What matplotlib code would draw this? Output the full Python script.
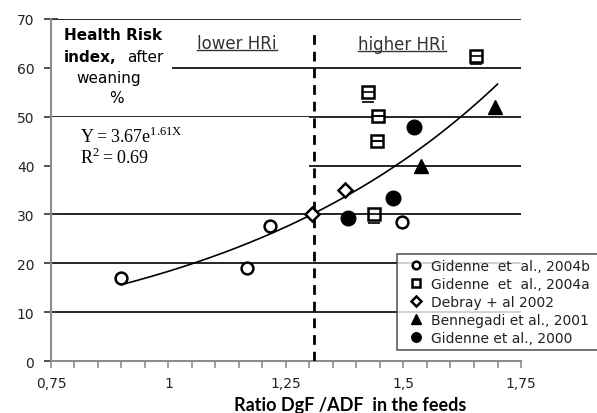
import matplotlib
matplotlib.use("Agg")
import matplotlib.pyplot as plt
import numpy as np
from matplotlib.patches import Rectangle
from matplotlib.lines import Line2D

plt.rcParams['font.family'] = ['DejaVu Sans']
plt.rcParams['mathtext.fontset'] = 'custom'
plt.rcParams['mathtext.rm'] = 'Liberation Serif'

# ---- data ----
g2004b_x = [0.90, 1.167, 1.216, 1.497]
g2004b_y = [17.0, 19.0, 27.6, 28.4]
g2004a_x = [1.654, 1.425, 1.446, 1.443, 1.437]
g2004a_y = [62.4, 55.0, 50.1, 45.0, 30.1]
g2004a_err_low = [1.6, 2.0, 0.0, 0.0, 1.8]
debray_x = [1.376, 1.305]
debray_y = [35.0, 30.1]
benne_x = [1.695, 1.537]
benne_y = [51.9, 39.9]
g2000_x = [1.522, 1.478, 1.382]
g2000_y = [47.9, 33.3, 29.2]

fit_a, fit_b = 3.67, 1.61
fit_xmin, fit_xmax = 0.90, 1.70
threshold_x = 1.31
threshold_top = 67.5

xticks = [0.75, 1.0, 1.25, 1.5, 1.75]
xticklabels = ['0,75', '1', '1,25', '1,5', '1,75']
yticks = [0, 10, 20, 30, 40, 50, 60, 70]

fig = plt.figure(figsize=(5.97, 4.14), dpi=100)
ax = fig.add_axes([0.0854, 0.1256, 0.7873, 0.8261])
ax.set_xlim(0.75, 1.75)
ax.set_ylim(0, 70)

# gridlines
for yv in yticks[1:]:
    ax.axhline(yv, color='black', lw=1.2, zorder=1)

# white boxes covering gridlines (text boxes in original)
ax.add_patch(Rectangle((0.752, 51.0), 0.255, 18.3, facecolor='white', edgecolor='none', zorder=2))
ax.add_patch(Rectangle((0.752, 35.5), 0.548, 14.45, facecolor='white', edgecolor='none', zorder=2))

# threshold
ax.vlines(threshold_x, 0, threshold_top, colors='black', linestyles=(0, (3.5, 2.5)), lw=2, zorder=3)

# fit curve
xf = np.linspace(fit_xmin, fit_xmax, 200)
ax.plot(xf, fit_a * np.exp(fit_b * xf), color='black', lw=1.2, zorder=4)

h1, = ax.plot(g2004b_x, g2004b_y, 'o', mfc='white', mec='black', mew=1.8, ms=8.5, zorder=5,
              label='Gidenne  et  al., 2004b')
h2, = ax.plot(g2004a_x, g2004a_y, 's', mfc='white', mec='black', mew=1.8, ms=8, zorder=5,
              label='Gidenne  et  al., 2004a')
ax.errorbar(g2004a_x, g2004a_y, yerr=[g2004a_err_low, [0] * len(g2004a_y)], fmt='none',
            ecolor='black', elinewidth=0, capsize=4, capthick=1.2, zorder=6)
h3, = ax.plot(debray_x, debray_y, 'D', mfc='white', mec='black', mew=1.8, ms=7.5, zorder=5,
              label='Debray + al 2002')
h4, = ax.plot(benne_x, benne_y, '^', color='black', ms=10, zorder=5,
              label='Bennegadi et al., 2001')
h5, = ax.plot(g2000_x, g2000_y, 'o', color='black', ms=10.5, zorder=5,
              label='Gidenne et al., 2000')

# axes styling
for s in ['top', 'right']:
    ax.spines[s].set_visible(False)
ax.spines['left'].set_color('#8c8c8c')
ax.spines['left'].set_linewidth(1.5)
ax.spines['bottom'].set_color('#8c8c8c')
ax.spines['bottom'].set_linewidth(1.5)
ax.set_xticks(xticks)
ax.set_xticklabels(xticklabels)
ax.set_xticks(np.arange(0.75, 1.7501, 0.05), minor=True)
ax.set_yticks(yticks)
ax.tick_params(axis='x', which='both', direction='out', length=5, width=1.2, color='#8c8c8c',
               labelsize=10, labelcolor='#222222', pad=6)
ax.tick_params(axis='y', direction='inout', length=10, width=1.2, color='#333333',
               labelsize=10, labelcolor='#222222', pad=7)
ax.set_xlabel('Ratio DgF /ADF  in the feeds', fontsize=13, fontweight='bold',
              family='Lato', va='center')
ax.xaxis.set_label_coords(0.636, -0.128)

# y label text block
ax.text(0.777, 66.9, 'Health Risk', fontsize=11, fontweight='bold', ha='left', va='center', zorder=6)
ax.text(0.777, 62.4, 'index,', fontsize=11, fontweight='bold', ha='left', va='center', zorder=6)
ax.text(0.913, 62.4, 'after', fontsize=11, ha='left', va='center', zorder=6)
ax.text(0.873, 58.1, 'weaning', fontsize=11, ha='center', va='center', zorder=6)
ax.text(0.890, 54.0, '%', fontsize=11, ha='center', va='center', zorder=6)

# equation
ax.text(0.812, 46.0, r'$\mathrm{Y = 3.67e}^{\mathrm{1.61X}}$', fontsize=13, ha='left', va='center', zorder=6)
ax.text(0.812, 41.7, r'$\mathrm{R}^{2}\mathrm{= 0.69}$', fontsize=13, ha='left', va='center', zorder=6)

# zone labels (underlined)
t_low = ax.text(1.146, 65.0, 'lower HRi', fontsize=12, ha='center', va='center',
                color='#333333', zorder=6)
t_high = ax.text(1.497, 64.8, 'higher HRi', fontsize=12, ha='center', va='center',
                 color='#333333', zorder=6)

leg = ax.legend(handles=[h1, h2, h3, h4, h5], loc='upper left',
                bbox_to_anchor=(0.736, 0.0385, 0.5, 0.275), mode='expand',
                fontsize=10, frameon=True, fancybox=False, edgecolor='#333333',
                borderpad=0.35, labelspacing=0.3, handlelength=2.0, handletextpad=0.1,
                markerscale=0.65, borderaxespad=0)
leg.get_frame().set_linewidth(1.2)
leg.set_zorder(10)
for t in leg.get_texts():
    t.set_color('#222222')

fig.canvas.draw()
inv = fig.transFigure.inverted()
for t in (t_low, t_high):
    bb = t.get_window_extent(renderer=fig.canvas.get_renderer())
    (x0, y0), (x1, y1) = inv.transform([(bb.x0, bb.y0 + 2), (bb.x1, bb.y0 + 2)])
    fig.add_artist(Line2D([x0, x1], [y0, y1], color='#333333', lw=1.0))

fig.savefig('out.png', dpi=100)
